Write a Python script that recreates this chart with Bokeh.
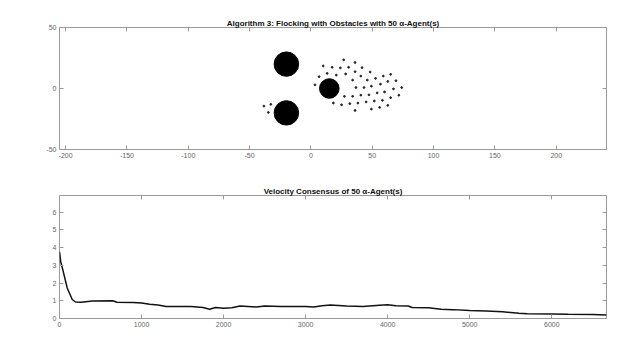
from bokeh.plotting import figure
from bokeh.layouts import column
from bokeh.models import Range1d, FixedTicker, LinearAxis
from bokeh.embed import file_html
from bokeh.resources import INLINE

# ---------------- data ----------------
obst_x = [-20, -20, 15]
obst_y = [20, -20, 0]
obst_r = [10, 10, 8]

agent_x = [26.7, 36.0, 10.0, 17.3, 24.0, 30.7, 41.7, 13.3, 20.7, 28.3,
           36.0, 48.3, 65.0, 6.7, 34.0, 40.7, 46.0, 52.7, 59.0, 69.3,
           3.3, 49.3, 36.7, 43.3, 56.7, 62.7, 67.3, 74.0, 27.3, 34.0,
           40.7, 47.3, 54.0, 60.0, 65.0, 71.7, 18.3, 25.0, 31.7, 38.3,
           45.0, 51.7, 58.3, 62.7, 56.0, 49.3, 36.0, -38.3, -32.7, -34.7]
agent_y = [23.5, 21.3, 18.5, 17.4, 16.9, 17.4, 17.1, 12.4, 11.0, 11.9,
           13.8, 13.5, 11.6, 9.7, 6.9, 10.2, 6.9, 8.3, 10.2, 6.4,
           3.0, 1.9, 0.8, 0.8, 3.6, 5.8, -0.3, 0.8, -6.4, -6.4,
           -5.5, -5.2, -3.6, -2.8, -7.5, -5.5, -11.9, -13.3, -12.4, -11.9,
           -11.0, -10.2, -9.7, -13.8, -15.5, -16.9, -18.0, -14.4, -13.0, -19.6]

vel_t = [0, 15, 40, 94, 155, 195, 265, 400, 650, 700, 900, 1000, 1100, 1200,
         1300, 1600, 1750, 1830, 1900, 2000, 2100, 2200, 2400, 2500, 2700,
         3000, 3100, 3200, 3300, 3500, 3700, 3900, 4000, 4100, 4250, 4300,
         4500, 4650, 4800, 5000, 5200, 5400, 5600, 5700, 6000, 6200, 6500, 6667]
vel_v = [3.75, 3.2, 2.75, 1.72, 1.07, 0.93, 0.92, 0.98, 1.0, 0.92, 0.9, 0.87,
         0.8, 0.76, 0.68, 0.68, 0.62, 0.52, 0.62, 0.58, 0.6, 0.7, 0.65, 0.7,
         0.68, 0.68, 0.65, 0.72, 0.76, 0.7, 0.68, 0.75, 0.78, 0.72, 0.7, 0.62,
         0.6, 0.52, 0.5, 0.45, 0.42, 0.38, 0.3, 0.27, 0.26, 0.24, 0.22, 0.2]

top_xticks = [-200, -150, -100, -50, 0, 50, 100, 150, 200]
top_yticks = [-50, 0, 50]
bot_xticks = [0, 1000, 2000, 3000, 4000, 5000, 6000]
bot_yticks = [0, 1, 2, 3, 4, 5, 6]

title1 = "Algorithm 3: Flocking with Obstacles with 50 \u03b1-Agent(s)"
title2 = "Velocity Consensus of 50 \u03b1-Agent(s)"

FONT = "Liberation Sans"
AX_COL = "#9a9a9a"
LBL_COL = "#666666"


def hyphen_labels(ticks):
    return {t: str(t) for t in ticks}


def style(p, xt, yt):
    p.outline_line_color = AX_COL
    p.outline_line_width = 1
    p.xgrid.visible = False
    p.ygrid.visible = False
    p.title.text_font = FONT
    p.title.text_font_size = "8px"
    p.title.text_font_style = "bold"
    p.title.align = "center"
    p.title.text_color = "#111111"
    p.title.offset = 0
    p.title.standoff = 0
    for ax in p.xaxis + p.yaxis:
        ax.axis_line_color = None
        ax.major_tick_in = 4
        ax.major_tick_out = 0
        ax.minor_tick_line_color = None
        ax.major_tick_line_color = AX_COL
        ax.major_label_text_font = FONT
        ax.major_label_text_font_size = "7px"
        ax.major_label_text_color = LBL_COL
        ax.major_label_standoff = 3
    p.xaxis.ticker = FixedTicker(ticks=xt)
    p.yaxis.ticker = FixedTicker(ticks=yt)
    p.xaxis.major_label_overrides = hyphen_labels(xt)
    p.yaxis.major_label_overrides = hyphen_labels(yt)
    # mirrored ticks on the right side
    ra = LinearAxis(ticker=FixedTicker(ticks=yt), axis_line_color=None,
                    major_tick_in=4, major_tick_out=0,
                    minor_tick_line_color=None, major_tick_line_color=AX_COL,
                    major_label_text_alpha=0, major_label_text_font_size="1px",
                    major_label_standoff=0)
    p.add_layout(ra, "right")


# ---------------- top plot ----------------
p1 = figure(frame_width=547, frame_height=122, output_backend="svg",
            toolbar_location=None, title=title1,
            x_range=Range1d(-205, 241), y_range=Range1d(-50, 50),
            min_border_left=59, min_border_right=34,
            min_border_top=27, min_border_bottom=24,
            background_fill_color="white", border_fill_color="white")
p1.ellipse(x=obst_x, y=obst_y, width=[2 * r for r in obst_r],
           height=[2 * r for r in obst_r], fill_color="black",
           line_color="black")
p1.scatter(x=agent_x, y=agent_y, size=1.8, color="#222222")
style(p1, top_xticks, top_yticks)
ta1 = LinearAxis(ticker=FixedTicker(ticks=top_xticks), axis_line_color=None,
                 major_tick_in=4, major_tick_out=0,
                 minor_tick_line_color=None, major_tick_line_color=AX_COL,
                 major_label_text_alpha=0, major_label_text_font_size="1px",
                 major_label_standoff=0)
p1.add_layout(ta1, "above")

# ---------------- bottom plot ----------------
p2 = figure(frame_width=547, frame_height=123, output_backend="svg",
            toolbar_location=None, title=title2,
            x_range=Range1d(0, 6667), y_range=Range1d(0, 6.93),
            min_border_left=59, min_border_right=34,
            min_border_top=22, min_border_bottom=39,
            background_fill_color="white", border_fill_color="white")
p2.line(x=vel_t, y=vel_v, line_color="#111111", line_width=1.5)
style(p2, bot_xticks, bot_yticks)
ta2 = LinearAxis(ticker=FixedTicker(ticks=bot_xticks), axis_line_color=None,
                 major_tick_in=4, major_tick_out=0,
                 minor_tick_line_color=None, major_tick_line_color=AX_COL,
                 major_label_text_alpha=0, major_label_text_font_size="1px",
                 major_label_standoff=0)
p2.add_layout(ta2, "above")

layout = column(p1, p2, spacing=0)
open("out.html", "w").write(file_html(layout, INLINE))
